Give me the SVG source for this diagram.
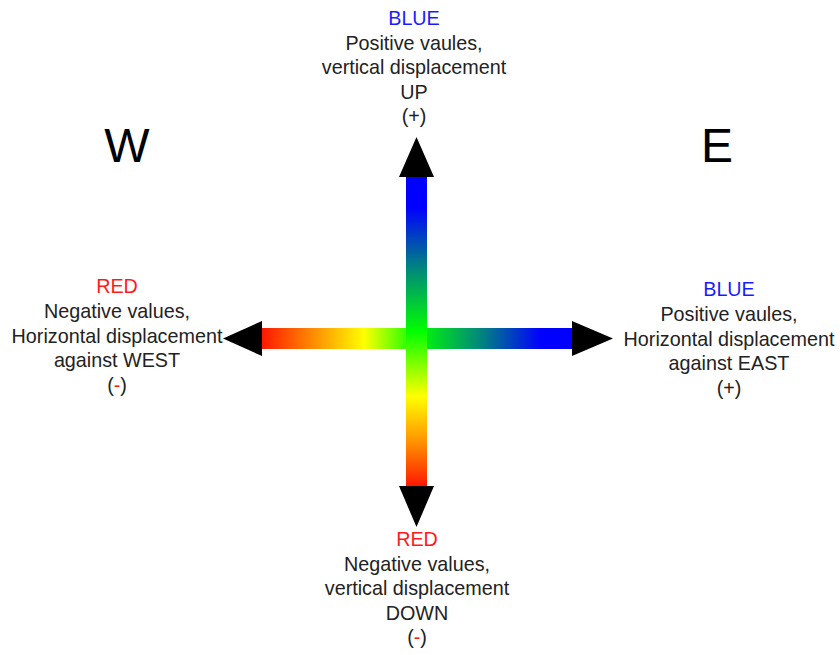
<svg xmlns="http://www.w3.org/2000/svg" width="840" height="655" viewBox="0 0 840 655">
<style>
text{font-family:"Liberation Sans",Arial,sans-serif;font-size:19.75px;fill:#222;text-anchor:middle}
.big{font-size:48px;fill:#000}
.r{fill:#ff1a1a}
.b{fill:#1a1aff}
.head{fill:#000}
</style>
<defs>
<linearGradient id="gh" gradientUnits="userSpaceOnUse" x1="262" y1="0" x2="572" y2="0">
<stop offset="0" stop-color="#ff1800"/>
<stop offset="0.17" stop-color="#ff9000"/>
<stop offset="0.33" stop-color="#ffff00"/>
<stop offset="0.5" stop-color="#00ff00"/>
<stop offset="0.7" stop-color="#00897a"/>
<stop offset="0.9" stop-color="#0000ff"/>
<stop offset="1" stop-color="#0000ff"/>
</linearGradient>
<linearGradient id="gv" gradientUnits="userSpaceOnUse" x1="0" y1="177" x2="0" y2="486">
<stop offset="0" stop-color="#0000ff"/>
<stop offset="0.1" stop-color="#0000ff"/>
<stop offset="0.3" stop-color="#00897a"/>
<stop offset="0.5" stop-color="#00ff00"/>
<stop offset="0.71" stop-color="#ffff00"/>
<stop offset="0.86" stop-color="#ff9000"/>
<stop offset="1" stop-color="#ff1800"/>
</linearGradient>
</defs>
<g id="connectors">
<rect x="262" y="328" width="310" height="21" fill="url(#gh)"/>
<rect x="406" y="177" width="21" height="309" fill="url(#gv)"/>
<polygon class="head" points="223,338.5 262,321 262,356"/>
<polygon class="head" points="613,338.5 572,321 572,356"/>
<polygon class="head" points="416.5,137 399,177 434,177"/>
<polygon class="head" points="416.5,527 399,486 434,486"/>
</g>
<g id="label-W"><text class="big" x="127" y="162">W</text></g>
<g id="label-E"><text class="big" x="717" y="162">E</text></g>
<g id="node-up">
<text class="b" x="414" y="25">BLUE</text>
<text x="414" y="49.5">Positive vaules,</text>
<text x="414" y="74">vertical displacement</text>
<text x="414" y="98.5">UP</text>
<text x="414" y="123">(+)</text>
</g>
<g id="node-west">
<text class="r" x="117" y="293">RED</text>
<text x="117" y="318">Negative values,</text>
<text x="117" y="342.5">Horizontal displacement</text>
<text x="117" y="367">against WEST</text>
<text x="117" y="391.5">(<tspan class="r">-</tspan>)</text>
</g>
<g id="node-east">
<text class="b" x="729" y="296">BLUE</text>
<text x="729" y="321">Positive vaules,</text>
<text x="729" y="345.5">Horizontal displacement</text>
<text x="729" y="370">against EAST</text>
<text x="729" y="394.5">(+)</text>
</g>
<g id="node-down">
<text class="r" x="417" y="546">RED</text>
<text x="417" y="570.5">Negative values,</text>
<text x="417" y="595">vertical displacement</text>
<text x="417" y="619.5">DOWN</text>
<text x="417" y="644">(<tspan class="r">-</tspan>)</text>
</g>
</svg>
